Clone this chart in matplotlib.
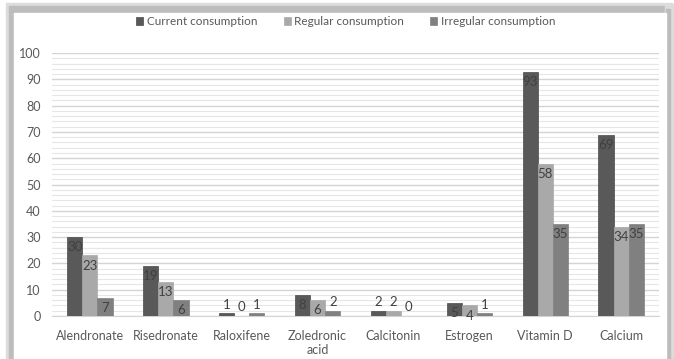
import numpy as np
import matplotlib
matplotlib.use('Agg')
import matplotlib.pyplot as plt
from matplotlib.patches import Rectangle
from matplotlib.ticker import MultipleLocator

categories = ['Alendronate', 'Risedronate', 'Raloxifene', 'Zoledronic\nacid',
              'Calcitonin', 'Estrogen', 'Vitamin D', 'Calcium']
current = [30, 19, 1, 8, 2, 5, 93, 69]
regular = [23, 13, 0, 6, 2, 4, 58, 34]
irregular = [7, 6, 1, 2, 0, 1, 35, 35]
series_names = ['Current consumption', 'Regular consumption', 'Irregular consumption']
colors = ['#595959', '#a9a9a9', '#808080']

plt.rcParams['font.family'] = ['Lato', 'DejaVu Sans']

fig = plt.figure(figsize=(6.74, 3.59), dpi=100)
fig.patch.set_facecolor('white')

# card shadow round the chart
def card(xy, w, h, c):
    fig.patches.append(Rectangle(xy, w, h, transform=fig.transFigure, color=c, zorder=-5))

card((0.009, 0.0), 0.012, 0.978, '#dcdcdc')
card((0.014, 0.0), 0.007, 0.972, '#bdbdbd')
card((0.009, 0.965), 0.988, 0.028, '#dcdcdc')
card((0.014, 0.965), 0.976, 0.018, '#bdbdbd')
card((0.986, 0.0), 0.012, 0.99, '#dcdcdc')
card((0.988, 0.0), 0.006, 0.975, '#bdbdbd')
card((0.021, 0.0), 0.967, 0.965, 'white')

ax = fig.add_axes([0.077, 0.120, 0.901, 0.732])
ax.set_zorder(2)
ax.set_facecolor('none')

x = np.arange(len(categories))
w = 0.2
for i, vals in enumerate([current, regular, irregular]):
    pos = x + (i - 1) * w
    ax.bar(pos, vals, w, color=colors[i], edgecolor='#4a4a4a' if i == 0 else colors[i],
           linewidth=0.5, label=series_names[i], zorder=3)
    for xp, v in zip(pos, vals):
        if v >= 4:
            ax.annotate(str(v), (xp, v), xytext=(0, -3), textcoords='offset points',
                        ha='center', va='top', fontsize=9.5, color='#404040', zorder=4)
        else:
            ax.annotate(str(v), (xp, v), xytext=(0, 2), textcoords='offset points',
                        ha='center', va='bottom', fontsize=9.5, color='#404040', zorder=4)

ax.set_xlim(-0.5, len(categories) - 0.5)
ax.set_ylim(0, 100)
ax.yaxis.set_major_locator(MultipleLocator(10))
ax.yaxis.set_minor_locator(MultipleLocator(2))
ax.grid(axis='y', which='major', color='#d4d4d4', linewidth=1.0, zorder=0)
ax.grid(axis='y', which='minor', color='#e6e6e6', linewidth=0.8, zorder=0)
for s in ['top', 'right', 'left']:
    ax.spines[s].set_visible(False)
ax.spines['bottom'].set_color('#d4d4d4')
ax.set_xticks(x)
ax.set_xticklabels(categories, fontsize=9, color='#595959')
ax.tick_params(axis='y', labelsize=9, labelcolor='#595959', length=0, pad=8)
ax.tick_params(axis='y', which='minor', length=0)
ax.tick_params(axis='x', length=0, pad=10)

leg = fig.legend(loc='center', bbox_to_anchor=(0.513, 0.94), ncol=3, frameon=False,
                 fontsize=8.5, handlelength=0.6, handleheight=0.6, handletextpad=0.3,
                 columnspacing=2.2)
for t in leg.get_texts():
    t.set_color('#595959')

fig.savefig('out.png', dpi=100)
